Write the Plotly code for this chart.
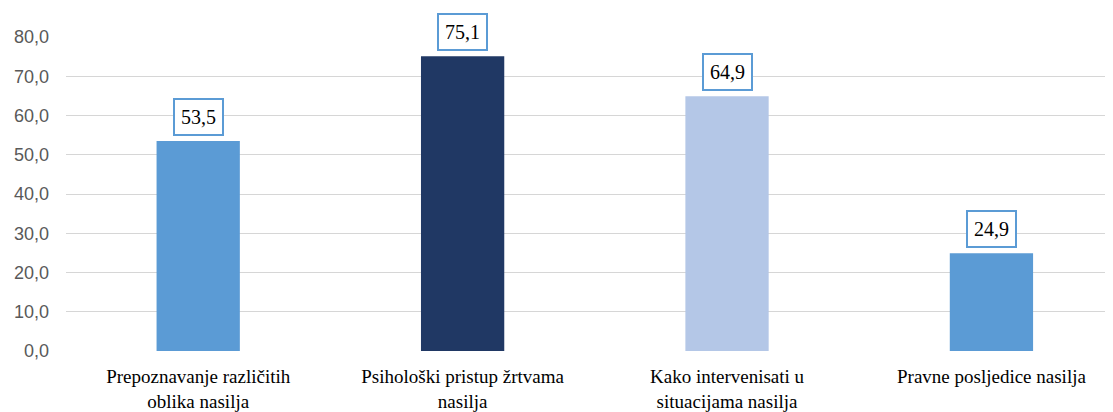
import plotly.graph_objects as go

categories = ["Prepoznavanje različitih<br>oblika nasilja",
              "Psihološki pristup žrtvama<br>nasilja",
              "Kako intervenisati u<br>situacijama nasilja",
              "Pravne posljedice nasilja"]
values = [53.5, 75.1, 64.9, 24.9]
colors = ["#5B9BD5", "#203864", "#B4C7E7", "#5B9BD5"]
tick_vals = [0, 10, 20, 30, 40, 50, 60, 70, 80]

fig = go.Figure()
fig.add_trace(go.Bar(x=list(range(len(categories))), y=values, marker_color=colors,
                     marker_line_width=0, width=0.315, hoverinfo="skip"))

for i, v in enumerate(values):
    fig.add_annotation(x=i, y=v, text=f"{v:.1f}".replace(".", ","), showarrow=False,
                       yanchor="bottom", yshift=5,
                       font=dict(family="Liberation Serif", size=20, color="#000000"),
                       bgcolor="#FFFFFF", bordercolor="#5B9BD5", borderwidth=2, borderpad=6)

fig.update_layout(
    width=1113, height=412,
    margin=dict(l=58, r=0, t=29, b=69, autoexpand=False),
    paper_bgcolor="white", plot_bgcolor="white",
    separators=",.",
    showlegend=False,
    xaxis=dict(range=[-0.5, 3.49], tickmode="array", tickvals=list(range(len(categories))),
               ticktext=categories, showgrid=False, zeroline=False, showline=False,
               tickfont=dict(family="Liberation Serif", size=19, color="#000000"),
               ticks="", ticklen=0, ticklabelstandoff=12, automargin=False),
    yaxis=dict(range=[0, 80], tickmode="array", tickvals=tick_vals, tickformat=".1f",
               showgrid=True, gridcolor="#D6D6D6", gridwidth=1,
               zeroline=False, showline=False,
               tickfont=dict(family="Liberation Sans", size=18, color="#595959"),
               ticks="", ticklabelstandoff=16, automargin=False),
)

fig.write_html("out.html")
